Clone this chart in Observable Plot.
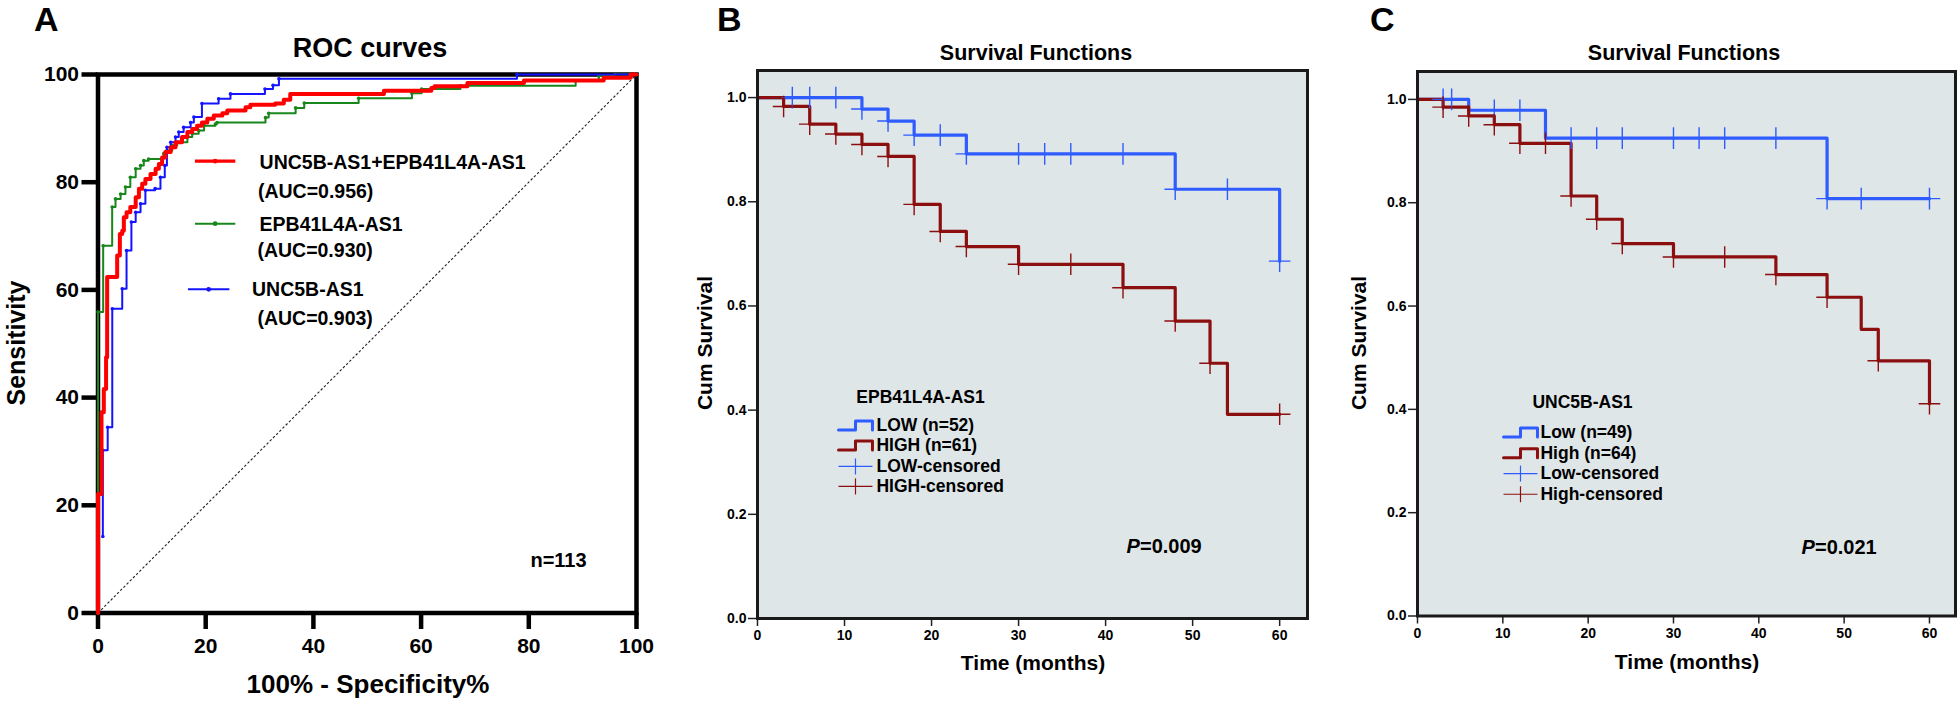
<!DOCTYPE html>
<html><head><meta charset="utf-8">
<script src="https://cdn.jsdelivr.net/npm/d3@7"></script>
<script src="https://cdn.jsdelivr.net/npm/@observablehq/plot@0.6"></script>
<style>
html,body{margin:0;padding:0;background:#fff;}
#root{position:relative;width:1958px;height:704px;overflow:hidden;}
.panel{position:absolute;top:0;}
.panel svg{overflow:visible;}
#overlay{position:absolute;left:0;top:0;}
</style></head><body><div id="root"></div>
<script>
// ================= DATA =================
// Panel A: ROC curves (x = 100% - Specificity%, y = Sensitivity)
const rocTicks = [0, 20, 40, 60, 80, 100];
const rocComboX = [0,0,0.65,1.08,1.5,1.7,3.56,4.06,4.5,4.8,5.3,6.0,7.0,7.6,8.2,8.8,9.75,10.7,11.3,11.9,12.5,13.5,14.4,15.6,16.6,17.5,18.4,19.3,20.3,21.5,23.1,24.0,27.4,28.3,32.9,34.5,35.7,53.1,61.9,62.5,68.6,79.1,93.9,98.9,100];
const rocComboY = [0,22.1,37.3,41.6,47.5,62.4,66.4,70.4,71.0,73.5,74.4,75.4,77.2,78.8,79.7,80.6,81.5,82.5,83.4,84.6,85.6,86.5,87.4,88.4,89.3,89.9,90.5,91.1,91.8,92.4,92.8,93.3,93.9,94.4,94.6,95.3,96.4,97.0,97.5,97.8,98.4,98.9,99.4,100,100];
const rocEpbX = [0,0,0.96,2.63,3.25,4.2,5.1,6.0,7.0,7.9,8.5,9.4,12.2,12.8,13.8,14.7,16.6,17.5,18.7,19.7,21.8,22.1,31.1,31.7,36.7,38.3,48.4,58.3,60.1,67.3,88.7,93.0,96.0,100];
const rocEpbY = [0,55.9,68.2,75.4,76.9,77.8,79.1,80.9,82.5,83.1,84.0,84.3,85.3,85.9,86.8,87.4,88.4,89.0,89.6,90.5,90.8,91.1,92.0,92.8,93.8,94.7,95.6,96.5,97.3,97.9,98.8,99.7,100,100];
const rocUncX = [0.9,0.9,1.8,2.65,4.5,5.3,6.2,7.0,7.9,8.8,10.6,11.6,12.4,12.8,13.5,14.4,15.0,15.9,17.2,17.8,19.3,22.4,24.6,31.0,32.5,33.6,77.8,100];
const rocUncY = [14.2,30.2,34.5,56.5,60.2,67.3,72.6,74.4,76.0,78.5,78.8,80.9,83.1,86.5,87.4,88.4,89.3,90.2,91.1,92.1,94.6,95.5,96.4,97.3,98.0,99.2,100,100];
const rocNames = ["UNC5B-AS1+EPB41L4A-AS1", "EPB41L4A-AS1", "UNC5B-AS1"];
const rocAUC = ["(AUC=0.956)", "(AUC=0.930)", "(AUC=0.903)"];
const rocN = "n=113";

// Panel B: Kaplan-Meier, EPB41L4A-AS1
const kmTicksX = [0, 10, 20, 30, 40, 50, 60];
const kmTicksY = [0, 0.2, 0.4, 0.6, 0.8, 1.0];
const kmB_lowT  = [0,12,15,18,24,48,60];
const kmB_lowS  = [1,0.978,0.955,0.928,0.892,0.824,0.686];
const kmB_lowC  = [4,6,9,12,15,18,21,24,30,33,36,42,48,54,60];
const kmB_highT = [0,3,6,9,12,15,18,21,24,30,42,48,52,54,60];
const kmB_highS = [1,0.983,0.949,0.930,0.910,0.887,0.795,0.743,0.714,0.680,0.635,0.571,0.490,0.392,0.392];
const kmB_highC = [3,6,9,12,15,18,21,24,30,36,42,48,52,60];
const kmB_title = "EPB41L4A-AS1";
const kmB_labels = ["LOW (n=52)", "HIGH (n=61)", "LOW-censored", "HIGH-censored"];
const kmB_p = "=0.009";

// Panel C: Kaplan-Meier, UNC5B-AS1
const kmC_lowT  = [0,6,15,48,60];
const kmC_lowS  = [1,0.979,0.925,0.808,0.808];
const kmC_lowC  = [3,4,9,12,18,21,24,30,33,36,42,48,52,60];
const kmC_highT = [0,3,6,9,12,18,21,24,30,42,48,52,54,60];
const kmC_highS = [1,0.985,0.968,0.951,0.915,0.813,0.768,0.721,0.695,0.661,0.617,0.555,0.494,0.411];
const kmC_highC = [3,6,9,12,15,18,21,24,30,36,42,48,54,60];
const kmC_title = "UNC5B-AS1";
const kmC_labels = ["Low (n=49)", "High (n=64)", "Low-censored", "High-censored"];
const kmC_p = "=0.021";

// ================= STYLE =================
const FONT = '"Liberation Sans", Arial, Helvetica, sans-serif';
const RED = "#ff0000", GREEN = "#17871b", BLUE = "#1414ff";
const KM_LOW = "#2f5cff", KM_HIGH = "#8c0f0f", KM_BG = "#dfe6e8";

const root = document.getElementById("root");
function place(svg, left) {
  const d = document.createElement("div");
  d.className = "panel"; d.style.left = left + "px";
  d.appendChild(svg); root.appendChild(d);
}
const zipXY = (xs, ys) => xs.map((x, i) => ({x, y: ys[i]}));

// ================= PANEL A =================
const comboRows = zipXY(rocComboX, rocComboY);
const epbRows = zipXY(rocEpbX, rocEpbY);
const uncRows = zipXY(rocUncX, rocUncY);

const legA = [
  {name: rocNames[0], auc: rocAUC[0], lx1: 18.0, lx2: 25.5, ly: 83.9, tx: 30.0, ty: 82.5, ax: 29.7, ay: 77.1, color: RED, w: 3.2},
  {name: rocNames[1], auc: rocAUC[1], lx1: 18.0, lx2: 25.5, ly: 72.3, tx: 30.0, ty: 70.9, ax: 29.6, ay: 66.1, color: GREEN, w: 2},
  {name: rocNames[2], auc: rocAUC[2], lx1: 16.7, lx2: 24.4, ly: 60.1, tx: 28.6, ty: 58.8, ax: 29.6, ay: 53.4, color: BLUE, w: 2}
];

const plotA = Plot.plot({
  width: 660, height: 704,
  marginLeft: 97.5, marginRight: 24, marginTop: 74, marginBottom: 91.5,
  x: {domain: [0, 100]}, y: {domain: [0, 100]},
  style: {fontFamily: FONT, background: "transparent", overflow: "visible", color: "#000"},
  marks: [
    Plot.link([{x1: 0, y1: 0, x2: 100, y2: 100}], {x1: "x1", y1: "y1", x2: "x2", y2: "y2", stroke: "#222", strokeWidth: 1.1, strokeDasharray: "2.5,2"}),
    Plot.axisY({ticks: rocTicks, tickSize: 16, tickPadding: 3, stroke: "#000", strokeWidth: 4.5, fontSize: 21, fontWeight: "bold", label: null}),
    Plot.axisX({ticks: rocTicks, tickSize: 16.5, tickPadding: 9, stroke: "#000", strokeWidth: 4.5, fontSize: 21, fontWeight: "bold", label: null}),
    Plot.frame({stroke: "#000", strokeWidth: 4.5}),
    Plot.line(epbRows, {x: "x", y: "y", curve: "step-after", stroke: GREEN, strokeWidth: 2}),
    Plot.dot(epbRows, {x: "x", y: "y", r: 1.8, fill: GREEN}),
    Plot.line(uncRows, {x: "x", y: "y", curve: "step-after", stroke: BLUE, strokeWidth: 2}),
    Plot.dot(uncRows, {x: "x", y: "y", r: 1.8, fill: BLUE}),
    Plot.line(comboRows, {x: "x", y: "y", curve: "step-after", stroke: RED, strokeWidth: 4}),
    // legend
    ...legA.map(d => Plot.link([d], {x1: "lx1", x2: "lx2", y1: "ly", y2: "ly", stroke: d.color, strokeWidth: d.w})),
    ...legA.map(d => Plot.dot([d], {x: v => (v.lx1 + v.lx2) / 2, y: "ly", r: 2.4, fill: d.color})),
    Plot.text(legA, {x: "tx", y: "ty", text: "name", textAnchor: "start", lineAnchor: "bottom", fontSize: 19.5, fontWeight: "bold", fill: "#000"}),
    Plot.text(legA, {x: "ax", y: "ay", text: "auc", textAnchor: "start", lineAnchor: "bottom", fontSize: 19.5, fontWeight: "bold", fill: "#000"}),
    Plot.text([rocN], {x: 80.3, y: 8.6, text: d => d, textAnchor: "start", lineAnchor: "bottom", fontSize: 20, fontWeight: "bold", fill: "#000"})
  ]
});
place(plotA, 0);

// ================= KM PANELS =================
function stepAt(T, S, t) {
  let v = S[0];
  for (let i = 0; i < T.length; i++) if (T[i] <= t) v = S[i];
  return v;
}
function kmPlot(cfg) {
  const low = zipXY(cfg.lowT, cfg.lowS), high = zipXY(cfg.highT, cfg.highS);
  const lowC = cfg.lowC.map(t => ({x: t, y: stepAt(cfg.lowT, cfg.lowS, t)}));
  const highC = cfg.highC.map(t => ({x: t, y: stepAt(cfg.highT, cfg.highS, t)}));
  const L = cfg.leg;
  const hs = L.hs, vs = L.vs;
  const stepSym = (yc) => [
    {x: L.x0, y: yc - hs}, {x: L.xm, y: yc - hs}, {x: L.xm, y: yc + hs}, {x: L.x1, y: yc + hs}, {x: L.x1, y: yc - hs}
  ];
  const rowsText = cfg.labels.map((t, i) => ({t, y: L.rows[i]}));
  return Plot.plot({
    width: cfg.width, height: 704,
    marginLeft: cfg.ml, marginRight: cfg.mr, marginTop: cfg.mt, marginBottom: cfg.mb,
    x: {domain: [0, cfg.xmax]}, y: {domain: [0, cfg.ymax]},
    style: {fontFamily: FONT, background: "transparent", overflow: "visible", color: "#000"},
    marks: [
      Plot.frame({fill: KM_BG, stroke: "none"}),
      Plot.axisY({ticks: kmTicksY, tickFormat: ".1f", tickSize: 9, tickPadding: 2, stroke: "#222", strokeWidth: 1.5, fontSize: 14, fontWeight: "bold", label: null}),
      Plot.axisX({ticks: kmTicksX, tickSize: 8, tickPadding: 4, stroke: "#222", strokeWidth: 1.5, fontSize: 14, fontWeight: "bold", label: null}),
      Plot.line(low, {x: "x", y: "y", curve: "step-after", stroke: KM_LOW, strokeWidth: 3.2}),
      Plot.line(high, {x: "x", y: "y", curve: "step-after", stroke: KM_HIGH, strokeWidth: 3.2}),
      Plot.dot(lowC, {x: "x", y: "y", symbol: "plus", r: 7, stroke: KM_LOW, strokeWidth: 1.4}),
      Plot.dot(highC, {x: "x", y: "y", symbol: "plus", r: 7, stroke: KM_HIGH, strokeWidth: 1.4}),
      Plot.frame({stroke: "#1a1a1a", strokeWidth: 3}),
      // legend
      Plot.text([cfg.title], {x: L.hx, y: L.hy, text: d => d, textAnchor: "middle", lineAnchor: "bottom", fontSize: 17.5, fontWeight: "bold", fill: "#000"}),
      Plot.line(stepSym(L.rows[0]), {x: "x", y: "y", stroke: KM_LOW, strokeWidth: 3}),
      Plot.line(stepSym(L.rows[1]), {x: "x", y: "y", stroke: KM_HIGH, strokeWidth: 3}),
      Plot.link([L.rows[2]], {x1: L.x0, x2: L.x1, y1: d => d, y2: d => d, stroke: KM_LOW, strokeWidth: 1.2}),
      Plot.link([L.rows[2]], {x1: L.xm, x2: L.xm, y1: d => d - vs, y2: d => d + vs, stroke: KM_LOW, strokeWidth: 1.2}),
      Plot.link([L.rows[3]], {x1: L.x0, x2: L.x1, y1: d => d, y2: d => d, stroke: KM_HIGH, strokeWidth: 1.2}),
      Plot.link([L.rows[3]], {x1: L.xm, x2: L.xm, y1: d => d - vs, y2: d => d + vs, stroke: KM_HIGH, strokeWidth: 1.2}),
      Plot.text(rowsText, {x: L.tx, y: "y", text: "t", textAnchor: "start", lineAnchor: "middle", fontSize: 17.5, fontWeight: "bold", fill: "#000"}),
      Plot.text(["P"], {x: L.px, y: L.py, text: d => d, textAnchor: "start", lineAnchor: "bottom", fontSize: 20, fontWeight: "bold", fontStyle: "italic", fill: "#000"}),
      Plot.text([cfg.p], {x: L.px, y: L.py, dx: 13.5, text: d => d, textAnchor: "start", lineAnchor: "bottom", fontSize: 20, fontWeight: "bold", fill: "#000"})
    ]
  });
}

const plotB = kmPlot({
  width: 660, ml: 97, mr: 13, mt: 70, mb: 86, xmax: 63.2, ymax: 1.052,
  lowT: kmB_lowT, lowS: kmB_lowS, lowC: kmB_lowC, highT: kmB_highT, highS: kmB_highS, highC: kmB_highC,
  title: kmB_title, labels: kmB_labels, p: kmB_p,
  leg: {x0: 9.31, xm: 11.26, x1: 13.21, tx: 13.67, rows: [0.3707, 0.3322, 0.2919, 0.2535], hs: 0.0086, vs: 0.0154,
        hx: 18.73, hy: 0.4129, px: 42.4, py: 0.1248}
});
place(plotB, 660);

const plotC = kmPlot({
  width: 648, ml: 107, mr: 3, mt: 71, mb: 88.5, xmax: 63.05, ymax: 1.054,
  lowT: kmC_lowT, lowS: kmC_lowS, lowC: kmC_lowC, highT: kmC_highT, highS: kmC_highS, highC: kmC_highC,
  title: kmC_title, labels: kmC_labels, p: kmC_p,
  leg: {x0: 10.08, xm: 12.07, x1: 14.06, tx: 14.41, rows: [0.3551, 0.3150, 0.2757, 0.2357], hs: 0.0087, vs: 0.0155,
        hx: 19.34, hy: 0.4024, px: 45.0, py: 0.1200}
});
place(plotC, 1310);

// ================= TITLES / LABELS =================
const labels = [
  {t: "A", x: 34, y: 31, size: 34, anchor: "start"},
  {t: "B", x: 717, y: 31, size: 34, anchor: "start"},
  {t: "C", x: 1370, y: 31, size: 34, anchor: "start"},
  {t: "ROC curves", x: 370, y: 57, size: 27, anchor: "middle"},
  {t: "100% - Specificity%", x: 368, y: 693, size: 26, anchor: "middle"},
  {t: "Sensitivity", x: 25, y: 343, size: 25, anchor: "middle", rot: true},
  {t: "Survival Functions", x: 1036, y: 60, size: 21.5, anchor: "middle"},
  {t: "Survival Functions", x: 1684, y: 60, size: 21.5, anchor: "middle"},
  {t: "Cum Survival", x: 712, y: 343, size: 21, anchor: "middle", rot: true},
  {t: "Cum Survival", x: 1366, y: 343, size: 21, anchor: "middle", rot: true},
  {t: "Time (months)", x: 1033, y: 670, size: 21, anchor: "middle"},
  {t: "Time (months)", x: 1687, y: 669, size: 21, anchor: "middle"}
];
const ov = d3.select(root).append("svg").attr("id", "overlay").attr("width", 1958).attr("height", 704);
ov.selectAll("text").data(labels).join("text")
  .attr("transform", d => `translate(${d.x},${d.y})` + (d.rot ? " rotate(-90)" : ""))
  .attr("text-anchor", d => d.anchor)
  .attr("font-family", FONT).attr("font-weight", "bold")
  .attr("font-size", d => d.size).attr("fill", "#000")
  .text(d => d.t);
</script></body></html>
